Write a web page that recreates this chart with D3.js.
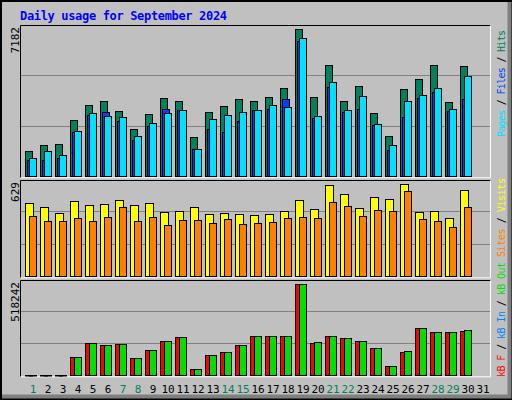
<!DOCTYPE html>
<html><head><meta charset="utf-8">
<script src="https://cdn.jsdelivr.net/npm/d3@7"></script>
<style>body{margin:0;background:#fff}svg{display:block}</style>
</head><body><svg id="c" width="512" height="400"></svg>
<script>
const days = d3.range(1,32).map(String);
const weekends = [1,7,8,14,15,21,22,28,29];
const hits  = [1222,1515,1564,2736,3469,3665,3176,2297,3030,3811,3665,1906,3127,3420,3762,3665,3860,4300,7182,3860,5424,3665,4398,3078,1955,4251,4740,5424,3616,5375,0];
const files = [782,782,880,2150,2981,3128,2688,1759,2444,3274,3225,1319,2297,2150,2688,3225,3274,3763,6597,2834,4349,3128,3274,2492,1271,2883,3812,4105,3176,3763,0];
const pages = [880,1222,1026,2199,3079,2932,2883,1955,2590,3079,3225,1319,2786,2981,3128,3225,3470,3372,6744,2932,4594,3225,3910,2541,1515,3665,3958,4300,3274,4887,0];
const visits= [499,472,431,513,485,492,520,485,499,438,444,472,424,431,424,417,424,444,520,458,622,561,465,540,526,629,438,444,397,588,0];
const sites = [410,376,376,397,376,403,472,376,403,349,383,383,362,390,356,362,369,397,403,397,506,479,410,451,444,581,390,376,335,472,0];
const kbF   = [1500,1500,1500,102000,181600,170000,176000,96500,141900,193000,215600,34000,113500,130500,170000,221000,221000,221000,518242,181600,221000,210000,193000,153000,51000,130500,266700,244000,244000,249600,0];
const kbOut = [1500,1500,1500,102000,181600,170000,176000,96500,141900,193000,215600,34000,113500,130500,170000,221000,221000,221000,518242,187000,221000,210000,193000,153000,51000,136000,266700,244000,244000,255000,0];
const maxTop = 7182, maxMid = 629, maxBot = 518242;

const svg = d3.select("#c");
const mono = "'DejaVu Sans Mono', monospace";
svg.append("rect").attr("width",512).attr("height",400).attr("fill","#c0c0c0");
svg.append("rect").attr("x",1).attr("y",1).attr("width",510).attr("height",398).attr("fill","none").attr("stroke","#000").attr("stroke-width",2);
svg.append("path").attr("d","M2,396.5H509.5V2").attr("fill","none").attr("stroke","#808080").attr("stroke-width",4);

svg.append("text").attr("x",20).attr("y",20).attr("fill","#0000ff").attr("font-family",mono)
  .attr("font-weight","bold").attr("font-size",12).attr("textLength",207).text("Daily usage for September 2024");

const x = d3.scaleBand().domain(days).range([25,490]).paddingInner(0).paddingOuter(0);
x.range([25, 25+15*31]);

const panels = [
  {top:25, base:176.3, maxY:29.3, max:maxTop, label:"7182"},
  {top:180, base:276.3, maxY:184.3, max:maxMid, label:"629"},
  {top:280, base:375.3, maxY:284, max:maxBot, label:"518242"}
];
panels.forEach(p=>{
  p.y = d3.scaleLinear().domain([0,p.max]).range([p.base,p.maxY]);
  const g = svg.append("g");
  const h = p.base - p.top + 1;
  [1,2].forEach(k=>{
    const gy = Math.round(p.base - k*h/3)+0.5;
    g.append("line").attr("x1",21).attr("x2",490).attr("y1",gy).attr("y2",gy).attr("stroke","#808080");
  });
  g.append("path").attr("d",`M20.5,${p.base+1.5}V${p.top+0.5}H490.5`).attr("fill","none").attr("stroke","#000");
  g.append("path").attr("d",`M20.5,${p.base+1.5}H490.5V${p.top+0.5}`).attr("fill","none").attr("stroke","#fff");
  svg.append("text").attr("transform",`translate(19,${p.top+2}) rotate(-90)`).attr("text-anchor","end")
    .attr("font-family",mono).attr("font-size",11).attr("fill","#000").text(p.label);
});

function bars(vals, p, off, w, color){
  svg.append("g").selectAll("rect").data(vals).join("rect")
    .filter(d=>d>0)
    .attr("x",(d,i)=>x(days[i])+off+0.5)
    .attr("width",w)
    .attr("y",d=>Math.round(p.y(d))+0.5)
    .attr("height",d=>Math.max(0.5,Math.round(p.base)-Math.round(p.y(d))))
    .attr("fill",color).attr("stroke","#000");
}
bars(hits,panels[0],0,7,"#00805c");
bars(files,panels[0],2,7,"#0040ff");
bars(pages,panels[0],4,7,"#00e0ff");
bars(visits,panels[1],0,8,"#ffff00");
bars(sites,panels[1],4,7,"#ff8000");
bars(kbF,panels[2],0,7,"#ff0000");
bars(kbOut,panels[2],4,7,"#00e000");

svg.append("g").selectAll("text").data(days).join("text")
  .attr("x",d=>x(d)+8).attr("y",393).attr("text-anchor","middle")
  .attr("font-family",mono).attr("font-size",11)
  .attr("fill",d=>weekends.includes(+d)?"#00805c":"#000").text(d=>d);

function sideLabel(parts, yStart, len){
  const t = svg.append("text").attr("transform",`translate(505,${yStart}) rotate(-90)`)
    .attr("font-family",mono).attr("font-size",10).attr("textLength",len).attr("lengthAdjust","spacing");
  parts.forEach(([s,c])=>t.append("tspan").attr("fill",c).text(s));
}
sideLabel([["Pages","#00e0ff"],[" / ","#000"],["Files","#0040ff"],[" / ","#000"],["Hits","#00805c"]],137,107);
sideLabel([["Sites","#ff8000"],[" / ","#000"],["Visits","#ffff00"]],257,79);
sideLabel([["kB F","#ff0000"],[" / ","#000"],["kB In","#0080ff"],[" / ","#000"],["kB Out","#00e000"]],377,115);
</script></body></html>
